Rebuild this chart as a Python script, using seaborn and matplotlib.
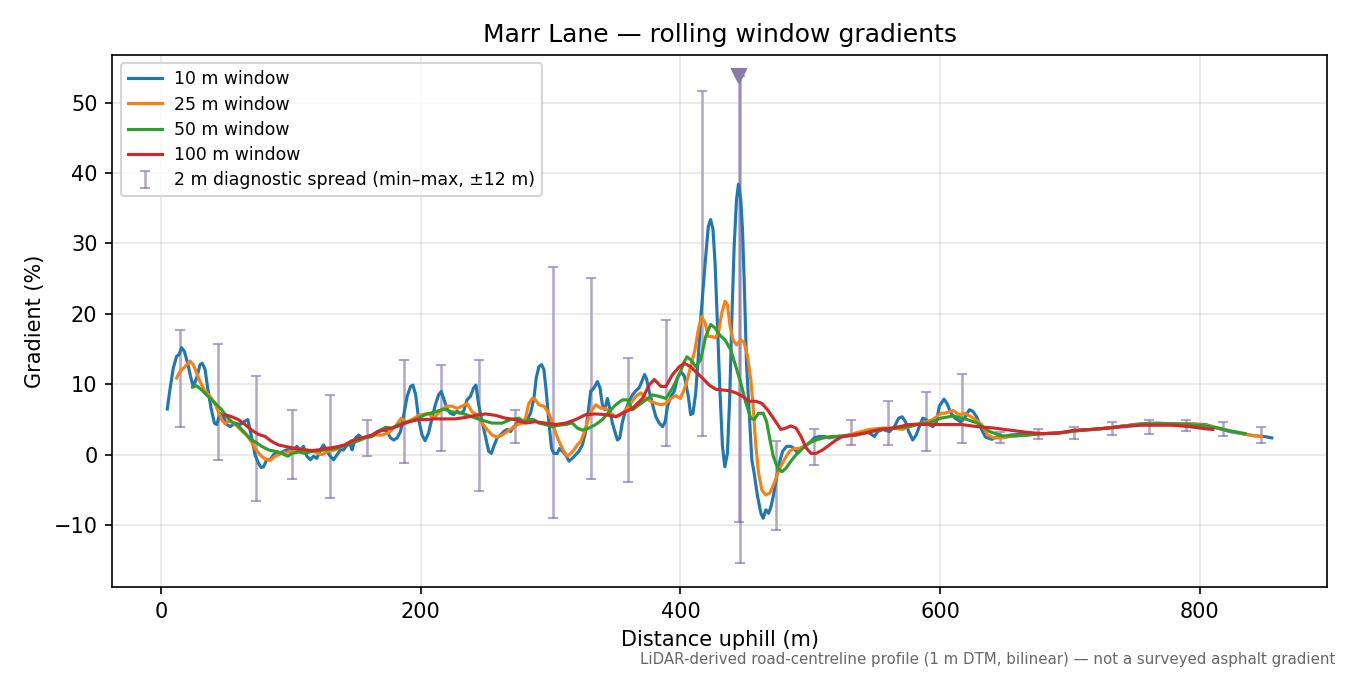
import numpy as np
import pandas as pd
import matplotlib
matplotlib.use("Agg")
import matplotlib.pyplot as plt
import seaborn as sns

# rolling-window gradients (distance m, gradient %)
blue_x = [4.9, 6.9, 9.5, 12.1, 13.9, 15.9, 18.0, 20.6, 23.1, 24.9, 27.5, 30.1, 31.9, 34.0, 36.0, 38.6,
          41.2, 43.0, 45.5, 48.1, 50.7, 53.3, 57.1, 61.0, 64.8, 66.9, 69.5, 72.5, 75.1, 77.2, 79.0,
          81.5, 84.1, 86.7, 89.2, 91.8, 94.4, 97.0, 99.5, 102.1, 104.7, 107.3, 109.8, 112.4, 115.0,
          117.6, 120.1, 122.7, 125.3, 127.8, 130.4, 133.0, 135.6, 138.2, 140.7, 143.3, 145.9, 147.2,
          149.8, 152.3, 154.9, 158.8, 162.6, 166.5, 170.3, 174.2, 176.8, 179.3, 181.9, 184.5, 187.0,
          189.6, 192.2, 194.0, 196.1, 198.5, 201.1, 203.4, 206.1, 208.7, 211.3, 213.8, 215.9, 217.7,
          220.2, 222.8, 225.4, 228.0, 230.5, 233.1, 235.7, 238.3, 240.8, 242.6, 244.7, 247.3, 249.9,
          252.4, 254.5, 256.3, 258.9, 261.4, 264.0, 266.6, 269.2, 271.7, 274.3, 276.9, 279.5, 282.0,
          284.6, 287.2, 289.0, 291.0, 293.1, 294.9, 296.7, 298.7, 300.8, 302.6, 305.2, 307.0, 309.1,
          311.6, 314.2, 316.8, 319.3, 321.9, 324.5, 327.1, 329.1, 330.9, 333.5, 336.1, 338.1, 339.9,
          341.7, 343.8, 345.6, 347.6, 349.7, 351.5, 353.3, 355.4, 357.9, 360.5, 363.1, 365.7, 368.2,
          370.3, 372.4, 373.9, 376.0, 378.6, 381.1, 383.7, 386.3, 388.3, 390.1, 392.7, 395.3, 397.8,
          400.4, 403.0, 406.1, 407.9, 409.7, 411.8, 413.8, 415.6, 417.4, 419.5, 421.5, 423.3, 425.1,
          426.7, 428.5, 430.3, 432.4, 434.2, 436.2, 438.0, 439.6, 441.4, 443.2, 444.7, 446.5, 447.8,
          449.1, 450.9, 453.0, 455.0, 456.8, 459.4, 462.0, 463.8, 465.8, 467.9, 469.7, 471.5, 473.6,
          476.1, 478.7, 481.8, 485.1, 487.7, 490.3, 492.9, 495.4, 499.3, 503.1, 507.0, 510.8, 514.7,
          519.8, 525.0, 530.1, 535.3, 540.4, 545.5, 549.4, 552.0, 555.8, 561.0, 564.8, 568.1, 570.7,
          573.3, 575.8, 578.9, 581.5, 584.0, 586.6, 589.2, 591.7, 594.3, 596.9, 599.4, 603.0, 605.2,
          608.4, 611.5, 615.6, 618.7, 622.5, 625.0, 628.1, 631.9, 635.0, 639.7, 644.4, 649.1, 653.8,
          666.4, 678.9, 691.5, 704.0, 716.5, 729.1, 741.6, 754.1, 766.7, 779.2, 791.7, 804.3, 813.7,
          823.1, 832.5, 841.9, 849.7, 855.4]
blue_y = [6.5, 9.2, 12.3, 14.0, 14.2, 15.2, 14.7, 13.0, 10.9, 9.7, 10.9, 12.8, 13.0, 12.1, 9.5, 6.6,
          4.5, 4.3, 5.9, 5.4, 4.3, 4.0, 4.5, 4.3, 4.8, 5.0, 2.8, 0.0, -1.2, -1.8, -1.7,
          -0.7, -0.7, 0.0, 0.5, 0.2, 0.5, 0.7, 0.9, 0.7, 1.2, 0.7, 1.2, -0.2, -0.7,
          -0.2, -0.5, 0.7, 1.4, 0.5, -0.2, -0.7, 0.0, 0.7, 0.7, 1.4, 1.4, 0.7,
          2.4, 2.8, 2.4, 2.6, 2.8, 3.3, 3.6, 3.3, 2.4, 2.1, 2.4, 3.3, 5.7,
          8.3, 9.7, 9.9, 8.6, 5.0, 2.8, 2.0, 3.1, 5.2, 7.1, 8.5, 9.0, 8.0,
          6.6, 5.9, 5.7, 6.2, 5.9, 6.2, 7.8, 8.3, 9.5, 9.9, 7.1, 4.7, 2.6,
          0.5, 0.2, 1.2, 2.4, 2.8, 3.3, 3.6, 3.3, 4.0, 4.5, 4.7, 4.7, 5.0,
          5.9, 8.0, 10.9, 12.5, 12.8, 12.1, 9.0, 4.7, 0.9, 0.2, 0.2, 0.9, 0.5,
          0.0, -0.9, -0.5, 0.0, 0.5, 1.4, 3.3, 6.2, 9.0, 9.5, 10.4, 9.5, 7.1,
          6.4, 8.0, 6.6, 4.5, 3.2, 2.1, 2.4, 4.7, 6.4, 7.6, 8.5, 9.1, 9.5,
          10.4, 11.4, 10.8, 9.0, 7.1, 5.4, 4.5, 4.0, 4.7, 6.9, 8.3, 9.0, 11.0,
          11.8, 11.2, 8.3, 5.7, 5.9, 8.8, 14.0, 19.2, 23.4, 28.2, 32.4, 33.4, 32.0,
          27.2, 18.7, 9.7, 1.2, -1.7, 0.2, 8.3, 19.2, 29.6, 36.2, 38.4, 36.2, 32.0,
          24.9, 13.0, 5.9, -0.7, -2.6, -5.9, -8.3, -9.0, -7.8, -8.3, -7.4, -5.9, -3.6,
          -1.2, 0.5, 1.2, 1.2, 0.9, 0.2, 0.9, 1.2, 1.7, 2.4, 2.6, 2.6, 2.4,
          2.6, 2.7, 2.8, 2.8, 3.3, 3.1, 2.6, 3.3, 3.6, 3.3, 4.0, 5.2, 5.4,
          4.7, 3.3, 2.1, 2.8, 4.0, 5.2, 5.0, 4.3, 4.0, 4.5, 6.9, 7.9, 7.3,
          5.9, 5.2, 4.7, 5.2, 6.4, 6.2, 5.4, 3.6, 2.5, 2.2, 2.6, 2.5, 2.8,
          3.0, 3.0, 3.1, 3.4, 3.6, 3.8, 4.1, 4.4, 4.5, 4.4, 4.4, 4.3, 3.8,
          3.3, 3.0, 2.7, 2.6, 2.4]

orange_x = [12.1, 14.6, 18.5, 22.4, 24.9, 27.5, 30.1, 33.4, 37.8, 41.6, 44.7, 46.8, 49.3, 52.4, 55.8,
            59.1, 62.7, 66.1, 69.4, 72.5, 76.4, 80.2, 84.1, 87.9, 93.1, 98.2, 103.3, 108.5, 113.6,
            118.7, 123.9, 129.0, 134.2, 139.3, 144.4, 149.6, 154.7, 159.9, 165.0, 170.1, 175.3,
            180.4, 185.0, 188.6, 193.3, 198.4, 201.0, 206.1, 210.0, 212.6, 216.4, 220.2, 224.1,
            228.0, 231.8, 235.7, 239.6, 243.4, 247.3, 251.1, 255.0, 258.9, 262.7, 266.6, 270.4,
            274.3, 278.1, 280.7, 283.3, 285.9, 288.4, 291.0, 294.9, 298.7, 301.3, 303.9, 307.0,
            310.3, 312.9, 315.5, 318.1, 320.6, 323.2, 325.8, 328.4, 331.0, 334.8, 338.7, 342.5,
            346.4, 350.2, 354.1, 357.9, 361.8, 365.7, 369.5, 373.4, 377.2, 381.1, 385.0, 388.8,
            392.7, 396.5, 400.1, 404.0, 407.9, 411.2, 413.8, 416.4, 419.0, 421.5, 424.1, 426.7,
            429.3, 431.8, 434.4, 436.2, 438.3, 440.6, 443.2, 446.5, 449.1, 451.7, 454.2, 456.0,
            458.1, 460.2, 462.7, 465.8, 468.9, 472.3, 476.1, 480.0, 483.9, 487.7, 491.6, 495.4,
            499.3, 504.4, 509.6, 517.3, 525.0, 535.3, 545.5, 555.8, 563.5, 571.2, 578.9, 586.6,
            594.3, 600.7, 603.6, 609.9, 614.6, 619.3, 625.6, 631.9, 636.6, 641.3, 647.5, 653.8,
            666.4, 678.9, 691.5, 704.0, 716.5, 729.1, 741.6, 754.1, 766.7, 779.2, 791.7, 804.3,
            813.7, 823.1, 832.5, 841.9, 847.5]
orange_y = [10.9, 11.8, 12.5, 13.3, 12.8, 11.6, 10.4, 9.2, 8.3, 7.3, 5.9, 5.0, 4.4, 4.8, 4.5,
            4.0, 3.3, 2.8, 1.9, 0.9, 0.0, -0.6, -0.8, -0.2, 0.2, 0.4, 0.5, 0.7, 0.5,
            0.4, 0.0, 0.5, 0.7, 1.2, 1.7, 2.1, 2.4, 2.6, 2.8, 2.8, 3.1,
            4.0, 5.2, 4.6, 5.0, 5.6, 5.7, 5.9, 5.2, 5.7, 6.4, 6.9, 6.9,
            6.6, 6.9, 7.3, 6.1, 5.7, 4.5, 3.6, 2.8, 2.5, 2.8, 3.3, 3.8,
            4.3, 4.5, 5.2, 7.3, 8.0, 7.8, 7.1, 6.9, 5.9, 4.7, 3.1, 1.7,
            0.5, -0.2, 0.2, 0.7, 1.4, 1.9, 3.1, 4.7, 6.1, 7.1, 6.6, 6.6,
            5.9, 5.4, 5.7, 6.4, 7.3, 8.3, 8.8, 8.0, 7.6, 7.3, 7.1, 7.3,
            8.0, 8.4, 8.0, 9.8, 12.5, 14.9, 17.8, 19.6, 18.7, 16.8, 16.8, 16.6,
            17.3, 20.1, 21.8, 21.3, 18.2, 16.3, 15.6, 16.3, 15.9, 14.0, 10.7, 6.9,
            1.2, -2.6, -5.0, -5.7, -5.4, -4.0, -2.1, -0.7, 0.5, 0.9, 0.9, 1.2,
            1.7, 2.1, 2.4, 2.6, 2.6, 3.1, 3.6, 3.8, 3.8, 3.6, 4.3, 4.5,
            5.0, 5.9, 5.9, 6.3, 5.7, 5.9, 5.2, 4.3, 2.8, 2.4, 2.4, 2.6,
            2.8, 3.0, 3.1, 3.4, 3.6, 3.8, 4.1, 4.3, 4.4, 4.4, 4.4, 4.2,
            3.8, 3.4, 3.0, 2.7, 2.6]

green_x = [24.4, 27.5, 31.4, 35.2, 39.1, 42.9, 46.8, 50.6, 54.5, 58.4, 62.2, 66.1, 69.9, 73.8, 77.6,
           82.8, 87.9, 93.1, 97.7, 100.8, 105.9, 111.1, 116.2, 121.3, 126.5, 131.6, 136.8, 141.9,
           147.0, 152.2, 157.3, 162.5, 167.6, 172.8, 177.9, 183.0, 188.2, 193.3, 198.4, 203.5,
           211.3, 217.7, 224.1, 231.8, 239.6, 247.3, 255.0, 262.7, 269.2, 275.6, 279.5, 283.3,
           287.2, 291.0, 296.1, 301.3, 306.4, 311.6, 316.8, 320.6, 324.5, 329.6, 334.8, 339.9,
           345.1, 350.2, 355.4, 359.2, 363.1, 368.2, 373.4, 378.5, 383.7, 388.8, 394.0, 399.1,
           403.0, 405.0, 407.9, 411.8, 415.6, 419.5, 423.3, 426.7, 430.3, 434.4, 438.8, 442.7,
           446.5, 450.4, 454.2, 456.8, 460.2, 463.8, 466.4, 469.0, 471.5, 474.9, 478.2, 481.3,
           485.1, 489.0, 494.1, 499.3, 504.4, 509.6, 517.3, 525.0, 535.3, 545.5, 555.8, 566.1,
           576.4, 586.6, 591.1, 600.5, 609.9, 619.3, 628.7, 638.1, 647.5, 656.9, 666.4, 678.9,
           691.5, 704.0, 716.5, 729.1, 741.6, 754.1, 766.7, 779.2, 791.7, 804.3, 813.7, 823.1,
           835.0]
green_y = [9.6, 9.8, 9.2, 8.5, 7.8, 7.1, 6.4, 5.4, 4.7, 4.3, 3.6, 2.8, 2.1, 1.7, 1.2,
           0.7, 0.5, 0.2, -0.2, 0.2, 0.4, 0.2, 0.5, 0.6, 0.7, 0.8, 1.0, 1.4,
           1.7, 2.0, 2.4, 2.6, 3.3, 3.9, 3.8, 4.3, 4.6, 4.8, 5.2, 5.7,
           6.1, 6.5, 6.1, 5.9, 5.4, 4.9, 4.5, 4.5, 5.0, 5.2, 4.7, 5.0,
           5.0, 4.5, 4.3, 4.0, 4.2, 4.3, 4.5, 3.8, 3.5, 3.8, 4.3, 5.0,
           6.1, 7.1, 7.8, 7.8, 6.4, 7.1, 7.8, 8.5, 8.3, 8.0, 9.5, 11.4,
           13.2, 13.9, 13.5, 12.5, 13.5, 16.8, 18.5, 18.0, 17.0, 16.3, 14.9, 12.5,
           10.2, 7.4, 5.2, 5.0, 5.9, 5.9, 4.7, 2.1, -0.2, -1.9, -2.4, -1.9,
           -0.9, 0.0, 0.9, 1.7, 2.1, 2.4, 2.6, 2.6, 2.8, 3.3, 3.6, 3.8,
           4.0, 4.5, 4.5, 5.2, 5.5, 5.1, 4.5, 3.3, 2.7, 2.7, 2.8, 3.0,
           3.1, 3.4, 3.6, 3.8, 4.1, 4.3, 4.4, 4.4, 4.3, 4.1, 3.8, 3.4,
           3.0]

red_x = [49.3, 54.5, 59.6, 64.8, 69.9, 75.1, 80.2, 85.3, 90.5, 95.6, 100.8, 105.9, 111.1, 116.2,
         121.3, 126.5, 131.6, 136.8, 141.9, 147.0, 152.2, 157.3, 162.5, 167.6, 172.8, 177.9, 183.0,
         188.2, 193.3, 198.4, 203.5, 211.3, 219.0, 226.7, 234.4, 242.1, 249.9, 257.6, 265.3, 273.0,
         280.7, 288.4, 296.1, 303.9, 311.6, 319.3, 327.1, 334.8, 342.5, 350.2, 355.4, 363.1, 370.8,
         376.0, 379.9, 385.0, 388.8, 394.0, 399.1, 403.0, 407.9, 411.8, 416.9, 422.2, 427.3, 432.4,
         437.6, 442.7, 447.8, 453.0, 458.1, 462.7, 467.1, 472.3, 477.4, 481.3, 485.1, 489.0, 492.9,
         496.7, 500.6, 504.4, 509.6, 514.7, 519.8, 525.0, 532.7, 543.0, 553.3, 563.5, 576.4, 589.2,
         600.7, 616.2, 628.7, 641.3, 653.8, 666.4, 678.9, 691.5, 704.0, 716.5, 729.1, 741.6, 754.1,
         766.7, 779.2, 791.7, 804.3, 810.0]
red_y = [5.7, 5.4, 5.0, 4.3, 3.5, 2.9, 2.6, 1.9, 1.4, 1.2, 1.0, 0.8, 0.7, 0.6,
         0.7, 0.9, 1.0, 1.2, 1.4, 2.0, 2.3, 2.5, 2.8, 3.3, 3.6, 3.8, 4.1,
         4.5, 4.8, 5.0, 5.0, 5.1, 5.1, 5.1, 5.3, 5.6, 5.8, 5.6, 5.2, 5.0,
         4.5, 4.7, 4.5, 4.3, 4.5, 5.0, 5.7, 5.8, 5.7, 5.4, 5.9, 6.6, 8.0,
         9.9, 10.7, 9.7, 9.7, 11.4, 12.5, 13.0, 12.5, 11.8, 10.9, 9.9, 9.3, 9.2,
         9.1, 8.8, 8.3, 7.6, 7.6, 7.3, 6.4, 5.0, 3.6, 3.8, 4.1, 3.8, 2.6,
         1.0, 0.2, 0.2, 0.7, 1.4, 2.1, 2.6, 2.8, 3.1, 3.6, 3.8, 4.3, 4.3,
         4.3, 4.3, 4.0, 3.8, 3.5, 3.2, 3.0, 3.1, 3.5, 3.6, 3.8, 4.0, 4.2,
         4.2, 4.2, 4.0, 3.7, 3.6]

# 2 m diagnostic spread (min / max within +-12 m)
spread_x = [15, 44, 73, 101, 130, 159, 187, 216, 245, 273, 302, 331, 360, 389, 417, 445, 446,
            474, 503, 531, 560, 589, 617, 646, 675, 703, 732, 761, 789, 818, 847]
spread_lo = [4.0, -0.7, -6.5, -3.4, -6.1, -0.1, -1.2, 0.6, -5.1, 1.7, -8.9, -3.4, -3.8, 1.2, 2.7,
             -9.6, -15.3, -10.7, -1.4, 1.4, 1.4, 0.6, 1.7, 1.7, 2.2, 2.3, 2.8, 2.9, 3.4, 2.6, 1.7]
spread_hi = [17.7, 15.7, 11.2, 6.3, 8.5, 4.9, 13.5, 12.7, 13.5, 6.4, 26.6, 25.1, 13.8, 19.2, 51.7,
             70.0, 62.0, 2.0, 3.7, 4.9, 7.6, 8.9, 11.5, 3.3, 3.7, 4.0, 4.7, 4.9, 5.0, 4.6, 4.0]

labels = ["10 m window", "25 m window", "50 m window", "100 m window"]
series = [(blue_x, blue_y), (orange_x, orange_y), (green_x, green_y), (red_x, red_y)]
colors = sns.color_palette("tab10", 4)
y_limits = (-18.8, 56.8)
marker_y = y_limits[1] - 3.0

fig, ax = plt.subplots(figsize=(9, 4.5), dpi=150)
fig.subplots_adjust(left=0.083, right=0.983, top=0.919, bottom=0.130)

# spreads taller than the axes are cut at the marker height
lo = np.array(spread_lo)
hi = np.minimum(np.array(spread_hi), marker_y)
mid = (lo + hi) / 2
ax.errorbar(spread_x, mid, yerr=[mid - lo, hi - mid], fmt="none", ecolor="#7d6aa8",
            elinewidth=1.2, capsize=2.5, capthick=1.0, alpha=0.6, zorder=1,
            label="2 m diagnostic spread (min\u2013max, \u00b112 m)")

for (xs, ys), lab, c in zip(series, labels, colors):
    df = pd.DataFrame({"dist": xs, "grad": ys})
    sns.lineplot(data=df, x="dist", y="grad", ax=ax, color=c, linewidth=1.5, label=lab, zorder=3)

ax.set_ylim(*y_limits)
clipped = [x for x, h in zip(spread_x, spread_hi) if h > y_limits[1]]
ax.plot([np.mean(clipped)], [marker_y], marker="v", markersize=7, color="#8a79ab",
        linestyle="none", zorder=4)

ax.grid(True, color="#b0b0b0", alpha=0.3, linewidth=0.8)
ax.set_xticks([0, 200, 400, 600, 800])
ax.set_title("Marr Lane \u2014 rolling window gradients", fontsize=12)
ax.set_xlabel("Distance uphill (m)", fontsize=10)
ax.set_ylabel("Gradient (%)", fontsize=10)

handles, labs = ax.get_legend_handles_labels()
order = [labs.index(l) for l in labels] + [labs.index(l) for l in labs if l not in labels]
ax.legend([handles[i] for i in order], [labs[i] for i in order], loc="upper left",
          fontsize=8.3, labelspacing=0.42, handletextpad=0.7)

fig.text(0.9895, 0.012, "LiDAR-derived road-centreline profile (1 m DTM, bilinear) \u2014 not a surveyed asphalt gradient",
         ha="right", va="bottom", fontsize=7.2, color="#666666")

fig.savefig("out.png", dpi=150)
